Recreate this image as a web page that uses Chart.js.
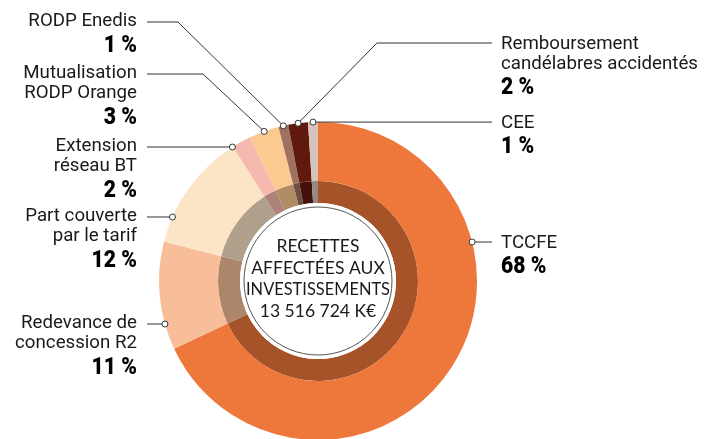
<!DOCTYPE html>
<html>
<head>
<meta charset="utf-8">
<script src="https://cdn.jsdelivr.net/npm/chart.js@4"></script>
<style>
  html, body { margin:0; padding:0; background:#fff; overflow:hidden; width:716px; height:439px; }
  canvas { position:absolute; left:0; top:0; }
</style>
</head>
<body>
<canvas id="c" width="716" height="445"></canvas>
<script>
// ---- data ----
const categories = ['TCCFE', 'Redevance de concession R2', 'Part couverte par le tarif', 'Extension réseau BT',
  'Mutualisation RODP Orange', 'RODP Enedis', 'Remboursement candélabres accidentés', 'CEE'];
const shares = [68, 11, 12, 2, 3, 1, 2, 1];
const pctLabels = ['68 %', '11 %', '12 %', '2 %', '3 %', '1 %', '2 %', '1 %'];
const labelLines = [['TCCFE'], ['Redevance de', 'concession R2'], ['Part couverte', 'par le tarif'],
  ['Extension', 'réseau BT'], ['Mutualisation', 'RODP Orange'], ['RODP Enedis'],
  ['Remboursement', 'candélabres accidentés'], ['CEE']];
const centerLines = ['RECETTES', 'AFFECTÉES AUX', 'INVESTISSEMENTS', '13 516 724 K€'];

// ---- styles ----
const colors = ['#EE773B', '#F7BE99', '#FCE4C7', '#F5B9B0', '#FBCA90', '#A07060', '#5F1A0D', '#D6C3BB'];
function darken(hex, f) {
  const n = parseInt(hex.slice(1), 16);
  const r = Math.round(((n >> 16) & 255) * f), g = Math.round(((n >> 8) & 255) * f), b = Math.round((n & 255) * f);
  return 'rgb(' + r + ',' + g + ',' + b + ')';
}
const innerColors = colors.map(c => darken(c, 0.70));

// label layout (side, leader line y, anchor mode, elbow x)
const labelLayout = [
  { side: 'right', lineY: 242, mode: 'circle' },
  { side: 'left', lineY: 324, mode: 'circle' },
  { side: 'left', lineY: 217, mode: 'circle' },
  { side: 'left', lineY: 147, mode: 'circle' },
  { side: 'left', lineY: 74, mode: 'mid', elbowX: 203 },
  { side: 'left', lineY: 22, mode: 'mid', elbowX: 178 },
  { side: 'right', lineY: 43, mode: 'mid', elbowX: 377 },
  { side: 'right', lineY: null, mode: 'mid' }
];
const LEFT_TEXT_X = 137, LEFT_LINE_X = 147, RIGHT_LINE_X = 492, RIGHT_TEXT_X = 501;
const LABEL_FONT = '18.7px Roboto';
const PCT_FONT = '900 24px Roboto';

function drawPct(ctx, text, x, y, align) {
  ctx.save();
  ctx.font = PCT_FONT;
  const sx = 0.88;
  const w = ctx.measureText(text).width * sx;
  const left = align === 'right' ? x - w : x;
  ctx.translate(left, y);
  ctx.scale(sx, 1);
  ctx.textAlign = 'left';
  ctx.fillStyle = '#000';
  ctx.fillText(text, 0, 0);
  ctx.restore();
}

const labelPlugin = {
  id: 'labels',
  afterDatasetsDraw(chart) {
    const ctx = chart.ctx;
    const meta0 = chart.getDatasetMeta(0);
    const meta1 = chart.getDatasetMeta(1);
    const inner = meta1.data[0].getProps(['x', 'y', 'innerRadius'], true);
    // white centre disc with thin outline
    ctx.save();
    ctx.beginPath();
    ctx.arc(inner.x, inner.y, inner.innerRadius, 0, Math.PI * 2);
    ctx.fillStyle = '#fff';
    ctx.fill();
    ctx.beginPath();
    ctx.arc(inner.x, inner.y, inner.innerRadius - 4, 0, Math.PI * 2);
    ctx.strokeStyle = '#555';
    ctx.lineWidth = 1;
    ctx.stroke();
    // centre text
    ctx.fillStyle = '#1a1a1a';
    ctx.font = '17.5px Lato';
    ctx.textAlign = 'center';
    ctx.textBaseline = 'alphabetic';
    const base0 = inner.y - 29;
    centerLines.forEach((t, i) => ctx.fillText(t, inner.x, base0 + i * 21.7, 144));
    ctx.restore();

    // leader lines and labels
    meta0.data.forEach((arc, i) => {
      const p = arc.getProps(['x', 'y', 'startAngle', 'endAngle', 'outerRadius'], true);
      const L = labelLayout[i];
      let dx, dy;
      if (L.mode === 'mid') {
        const a = (p.startAngle + p.endAngle) / 2;
        dx = p.x + Math.cos(a) * p.outerRadius;
        dy = p.y + Math.sin(a) * p.outerRadius;
      } else {
        const h = Math.sqrt(Math.max(0, p.outerRadius * p.outerRadius - (L.lineY - p.y) * (L.lineY - p.y)));
        dx = L.side === 'left' ? p.x - h : p.x + h;
        dy = L.lineY;
      }
      const lineY = L.lineY == null ? dy : L.lineY;
      ctx.save();
      ctx.strokeStyle = '#333';
      ctx.lineWidth = 1;
      ctx.beginPath();
      ctx.moveTo(dx, dy);
      if (L.elbowX != null) ctx.lineTo(L.elbowX, lineY);
      ctx.lineTo(L.side === 'left' ? LEFT_LINE_X : RIGHT_LINE_X, lineY);
      ctx.stroke();
      ctx.beginPath();
      ctx.arc(dx, dy, 3, 0, Math.PI * 2);
      ctx.fillStyle = '#fff';
      ctx.fill();
      ctx.strokeStyle = '#333';
      ctx.stroke();
      ctx.restore();

      ctx.save();
      ctx.font = LABEL_FONT;
      ctx.fillStyle = '#1a1a1a';
      ctx.textBaseline = 'alphabetic';
      const lines = labelLines[i];
      let b;
      if (L.side === 'left') {
        ctx.textAlign = 'right';
        b = lineY + 4;
        lines.forEach((t, k) => ctx.fillText(t, LEFT_TEXT_X, b + k * 19.5));
        drawPct(ctx, pctLabels[i], LEFT_TEXT_X, b + (lines.length - 1) * 19.5 + 26, 'right');
      } else {
        ctx.textAlign = 'left';
        b = lineY + 6;
        lines.forEach((t, k) => ctx.fillText(t, RIGHT_TEXT_X, b + k * 19.5));
        drawPct(ctx, pctLabels[i], RIGHT_TEXT_X, b + (lines.length - 1) * 19.5 + 25, 'left');
      }
      ctx.restore();
    });
  }
};

new Chart(document.getElementById('c'), {
  type: 'doughnut',
  data: {
    labels: categories,
    datasets: [
      { data: shares, backgroundColor: colors, borderWidth: 0, weight: 59 },
      { data: shares, backgroundColor: innerColors, borderWidth: 0, weight: 22 }
    ]
  },
  options: {
    responsive: false,
    animation: false,
    events: [],
    cutout: 78,
    layout: { padding: { left: 159, right: 239, top: 122, bottom: 5 } },
    plugins: { legend: { display: false }, tooltip: { enabled: false } }
  },
  plugins: [labelPlugin]
});
</script>
</body>
</html>
